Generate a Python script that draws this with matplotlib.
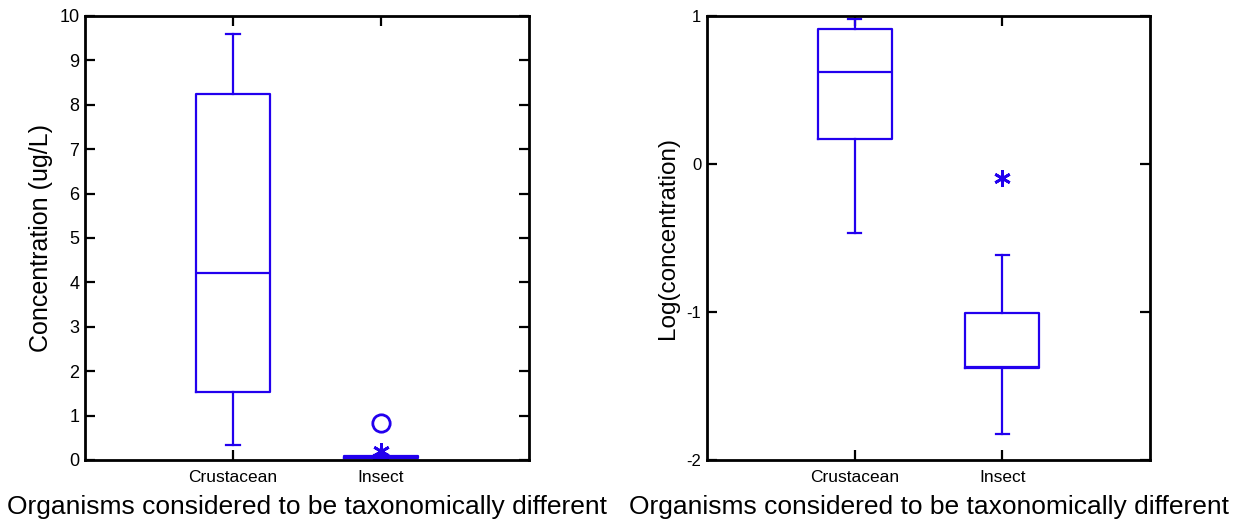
import matplotlib
matplotlib.use("Agg")
import matplotlib.pyplot as plt

# ---- data ----
categories = ["Crustacean", "Insect"]

# linear concentration (ug/L) box statistics
lin_whislo = [0.34, 0.015]
lin_q1 = [1.54, 0.042]
lin_med = [4.22, 0.044]
lin_q3 = [8.24, 0.10]
lin_whishi = [9.60, 0.12]
lin_outside = [[], [0.20]]      # asterisks
lin_far = [[], [0.84]]          # circles

# log(concentration) box statistics
log_whislo = [-0.464, -1.824]
log_q1 = [0.167, -1.38]
log_med = [0.624, -1.37]
log_q3 = [0.91, -1.005]
log_whishi = [0.978, -0.615]
log_outside = [[], [-0.097]]
log_far = [[], []]

left_yticks = list(range(0, 11))
right_yticks = [-2, -1, 0, 1]
xlabel_text = "Organisms considered to be taxonomically different"

# ---- style ----
plt.rcParams['font.family'] = ['Liberation Sans', 'DejaVu Sans']
plt.rcParams['axes.unicode_minus'] = False
BLUE = '#2200EE'
W, H = 1233, 520
fig = plt.figure(figsize=(W / 100, H / 100), dpi=100)

def px_axes(l, t, r, b):
    return fig.add_axes([l / W, 1 - b / H, (r - l) / W, (b - t) / H])

def make_stats(wl, q1, md, q3, wh, lab):
    return [dict(whislo=wl[i], q1=q1[i], med=md[i], q3=q3[i], whishi=wh[i],
                 fliers=[], label=lab[i]) for i in range(len(lab))]

def draw(ax, wl, q1, md, q3, wh, outside, far, ylim, yticks, ylabel,
         ylabsize, yticksize, ylabx):
    stats = make_stats(wl, q1, md, q3, wh, categories)
    pos = list(range(1, len(categories) + 1))
    lp = dict(color=BLUE, linewidth=1.6)
    ax.bxp(stats, positions=pos, widths=0.5, capwidths=0.09, showfliers=False,
           boxprops=lp, whiskerprops=lp, capprops=lp,
           medianprops=dict(color=BLUE, linewidth=1.6))
    for p, vals in zip(pos, outside):
        if vals:
            ax.plot([p] * len(vals), vals, linestyle='none', marker=(6, 2, 0),
                    markersize=12, markeredgewidth=2, color=BLUE, clip_on=False)
    for p, vals in zip(pos, far):
        if vals:
            ax.plot([p] * len(vals), vals, linestyle='none', marker='o',
                    markersize=12.5, markeredgewidth=2, markerfacecolor='none',
                    markeredgecolor=BLUE, clip_on=False)
    ax.set_xlim(0, len(categories) + 1)
    ax.set_ylim(*ylim)
    ax.set_yticks(yticks)
    ax.set_xticks(pos)
    ax.set_xticklabels(categories, fontsize=12.5)
    ax.tick_params(axis='both', direction='in', length=7, width=1.6,
                   top=True, right=True, colors='black')
    ax.tick_params(axis='y', labelsize=yticksize, pad=4)
    ax.tick_params(axis='x', pad=7)
    for s in ax.spines.values():
        s.set_linewidth(2)
    ax.set_ylabel(ylabel, fontsize=ylabsize)
    ax.yaxis.label.set_va('center')
    ax.yaxis.set_label_coords(ylabx, 0.5)
    ax.set_xlabel(xlabel_text, fontsize=19)
    ax.xaxis.label.set_va('center')
    ax.xaxis.set_label_coords(0.5, -0.106)

ax1 = px_axes(85, 16, 529, 460)
draw(ax1, lin_whislo, lin_q1, lin_med, lin_q3, lin_whishi, lin_outside, lin_far,
     (0, 10), left_yticks, "Concentration (ug/L)", 18, 13, -0.099)

ax2 = px_axes(707, 16, 1150, 460)
draw(ax2, log_whislo, log_q1, log_med, log_q3, log_whishi, log_outside, log_far,
     (-2, 1), right_yticks, "Log(concentration)", 17.5, 12, -0.088)

fig.savefig("out.png", dpi=100)
